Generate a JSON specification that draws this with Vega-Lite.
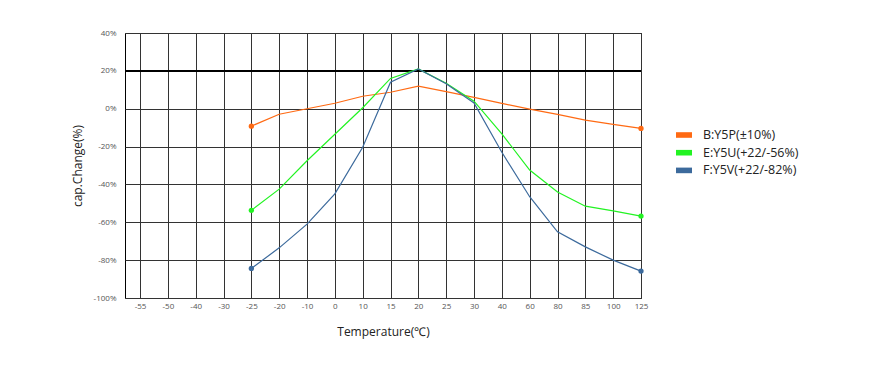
{
  "$schema": "https://vega.github.io/schema/vega-lite/v6.json",
  "autosize": {"type": "none"},
  "width": 516,
  "height": 265,
  "padding": {"left": 125, "top": 33, "right": 229, "bottom": 74},
  "background": "white",
  "config": {
    "font": "Open Sans",
    "view": {"stroke": "#000", "strokeWidth": 1},
    "axis": {
      "domain": false,
      "ticks": false,
      "gridColor": "#333",
      "gridOpacity": 1,
      "gridWidth": 1,
      "labelFont": "Open Sans",
      "labelFontSize": 8,
      "labelColor": "#555",
      "titleFont": "Open Sans",
      "titleFontSize": 12,
      "titleFontWeight": "normal",
      "titleColor": "#222"
    }
  },
  "data": {
    "values": [
      {"t": -25, "s": "B:Y5P(±10%)", "v": -9.2},
      {"t": -20, "s": "B:Y5P(±10%)", "v": -2.9},
      {"t": -10, "s": "B:Y5P(±10%)", "v": 0},
      {"t": 0, "s": "B:Y5P(±10%)", "v": 2.9},
      {"t": 10, "s": "B:Y5P(±10%)", "v": 6.6},
      {"t": 15, "s": "B:Y5P(±10%)", "v": 8.7},
      {"t": 20, "s": "B:Y5P(±10%)", "v": 11.9},
      {"t": 25, "s": "B:Y5P(±10%)", "v": 9},
      {"t": 30, "s": "B:Y5P(±10%)", "v": 6},
      {"t": 40, "s": "B:Y5P(±10%)", "v": 2.8},
      {"t": 60, "s": "B:Y5P(±10%)", "v": -0.2},
      {"t": 80, "s": "B:Y5P(±10%)", "v": -3},
      {"t": 85, "s": "B:Y5P(±10%)", "v": -6},
      {"t": 100, "s": "B:Y5P(±10%)", "v": -8.3},
      {"t": 125, "s": "B:Y5P(±10%)", "v": -10.4},
      {"t": -25, "s": "E:Y5U(+22/-56%)", "v": -53.7},
      {"t": -20, "s": "E:Y5U(+22/-56%)", "v": -42.5},
      {"t": -10, "s": "E:Y5U(+22/-56%)", "v": -27.5},
      {"t": 0, "s": "E:Y5U(+22/-56%)", "v": -13.5},
      {"t": 10, "s": "E:Y5U(+22/-56%)", "v": 0.5},
      {"t": 15, "s": "E:Y5U(+22/-56%)", "v": 16},
      {"t": 20, "s": "E:Y5U(+22/-56%)", "v": 21},
      {"t": 25, "s": "E:Y5U(+22/-56%)", "v": 13.5},
      {"t": 30, "s": "E:Y5U(+22/-56%)", "v": 4},
      {"t": 40, "s": "E:Y5U(+22/-56%)", "v": -13.3},
      {"t": 60, "s": "E:Y5U(+22/-56%)", "v": -32.4},
      {"t": 80, "s": "E:Y5U(+22/-56%)", "v": -44},
      {"t": 85, "s": "E:Y5U(+22/-56%)", "v": -51.5},
      {"t": 100, "s": "E:Y5U(+22/-56%)", "v": -54},
      {"t": 125, "s": "E:Y5U(+22/-56%)", "v": -56.7},
      {"t": -25, "s": "F:Y5V(+22/-82%)", "v": -84.4},
      {"t": -20, "s": "F:Y5V(+22/-82%)", "v": -73.5},
      {"t": -10, "s": "F:Y5V(+22/-82%)", "v": -61},
      {"t": 0, "s": "F:Y5V(+22/-82%)", "v": -45},
      {"t": 10, "s": "F:Y5V(+22/-82%)", "v": -20.4},
      {"t": 15, "s": "F:Y5V(+22/-82%)", "v": 14},
      {"t": 20, "s": "F:Y5V(+22/-82%)", "v": 21},
      {"t": 25, "s": "F:Y5V(+22/-82%)", "v": 13.2},
      {"t": 30, "s": "F:Y5V(+22/-82%)", "v": 3},
      {"t": 40, "s": "F:Y5V(+22/-82%)", "v": -23},
      {"t": 60, "s": "F:Y5V(+22/-82%)", "v": -46.5},
      {"t": 80, "s": "F:Y5V(+22/-82%)", "v": -65},
      {"t": 85, "s": "F:Y5V(+22/-82%)", "v": -73},
      {"t": 100, "s": "F:Y5V(+22/-82%)", "v": -80},
      {"t": 125, "s": "F:Y5V(+22/-82%)", "v": -85.8}
    ]
  },
  "encoding": {
    "x": {
      "field": "t",
      "type": "ordinal",
      "scale": {"type": "point", "domain": [-55, -50, -40, -30, -25, -20, -10, 0, 10, 15, 20, 25, 30, 40, 60, 80, 85, 100, 125], "padding": 0.27, "align": 1},
      "axis": {"title": "Temperature(℃)", "labelAngle": 0, "labelPadding": 4, "titlePadding": 16, "grid": true}
    },
    "y": {
      "field": "v",
      "type": "quantitative",
      "scale": {"domain": [-100, 40], "nice": false, "zero": false},
      "axis": {"title": "cap.Change(%)", "values": [-100, -80, -60, -40, -20, 0, 20, 40], "labelExpr": "datum.value + '%'", "labelPadding": 9, "titlePadding": 9, "grid": true}
    },
    "color": {
      "field": "s",
      "type": "nominal",
      "scale": {"domain": ["B:Y5P(±10%)", "E:Y5U(+22/-56%)", "F:Y5V(+22/-82%)"], "range": ["#FF6A13", "#22F322", "#3C6A9C"]},
      "legend": {
        "title": null,
        "orient": "none",
        "legendX": 551,
        "legendY": 94,
        "padding": 0,
        "symbolType": "M-1,-0.35H1V0.35H-1Z",
        "symbolSize": 256,
        "symbolStrokeWidth": 0,
        "symbolOpacity": 1,
        "labelFont": "Open Sans",
        "labelFontSize": 12.5,
        "labelColor": "#222",
        "labelOffset": 11,
        "rowPadding": 2.7
      }
    }
  },
  "layer": [
    {
      "mark": {"type": "rule", "color": "#000", "strokeWidth": 1.3},
      "encoding": {"y": {"datum": 20}, "x": null, "color": null}
    },
    {
      "mark": {"type": "line", "strokeWidth": 1.2}
    },
    {
      "transform": [{"filter": "datum.t == -25 || datum.t == 125"}],
      "mark": {"type": "circle", "size": 28, "opacity": 1}
    }
  ]
}
